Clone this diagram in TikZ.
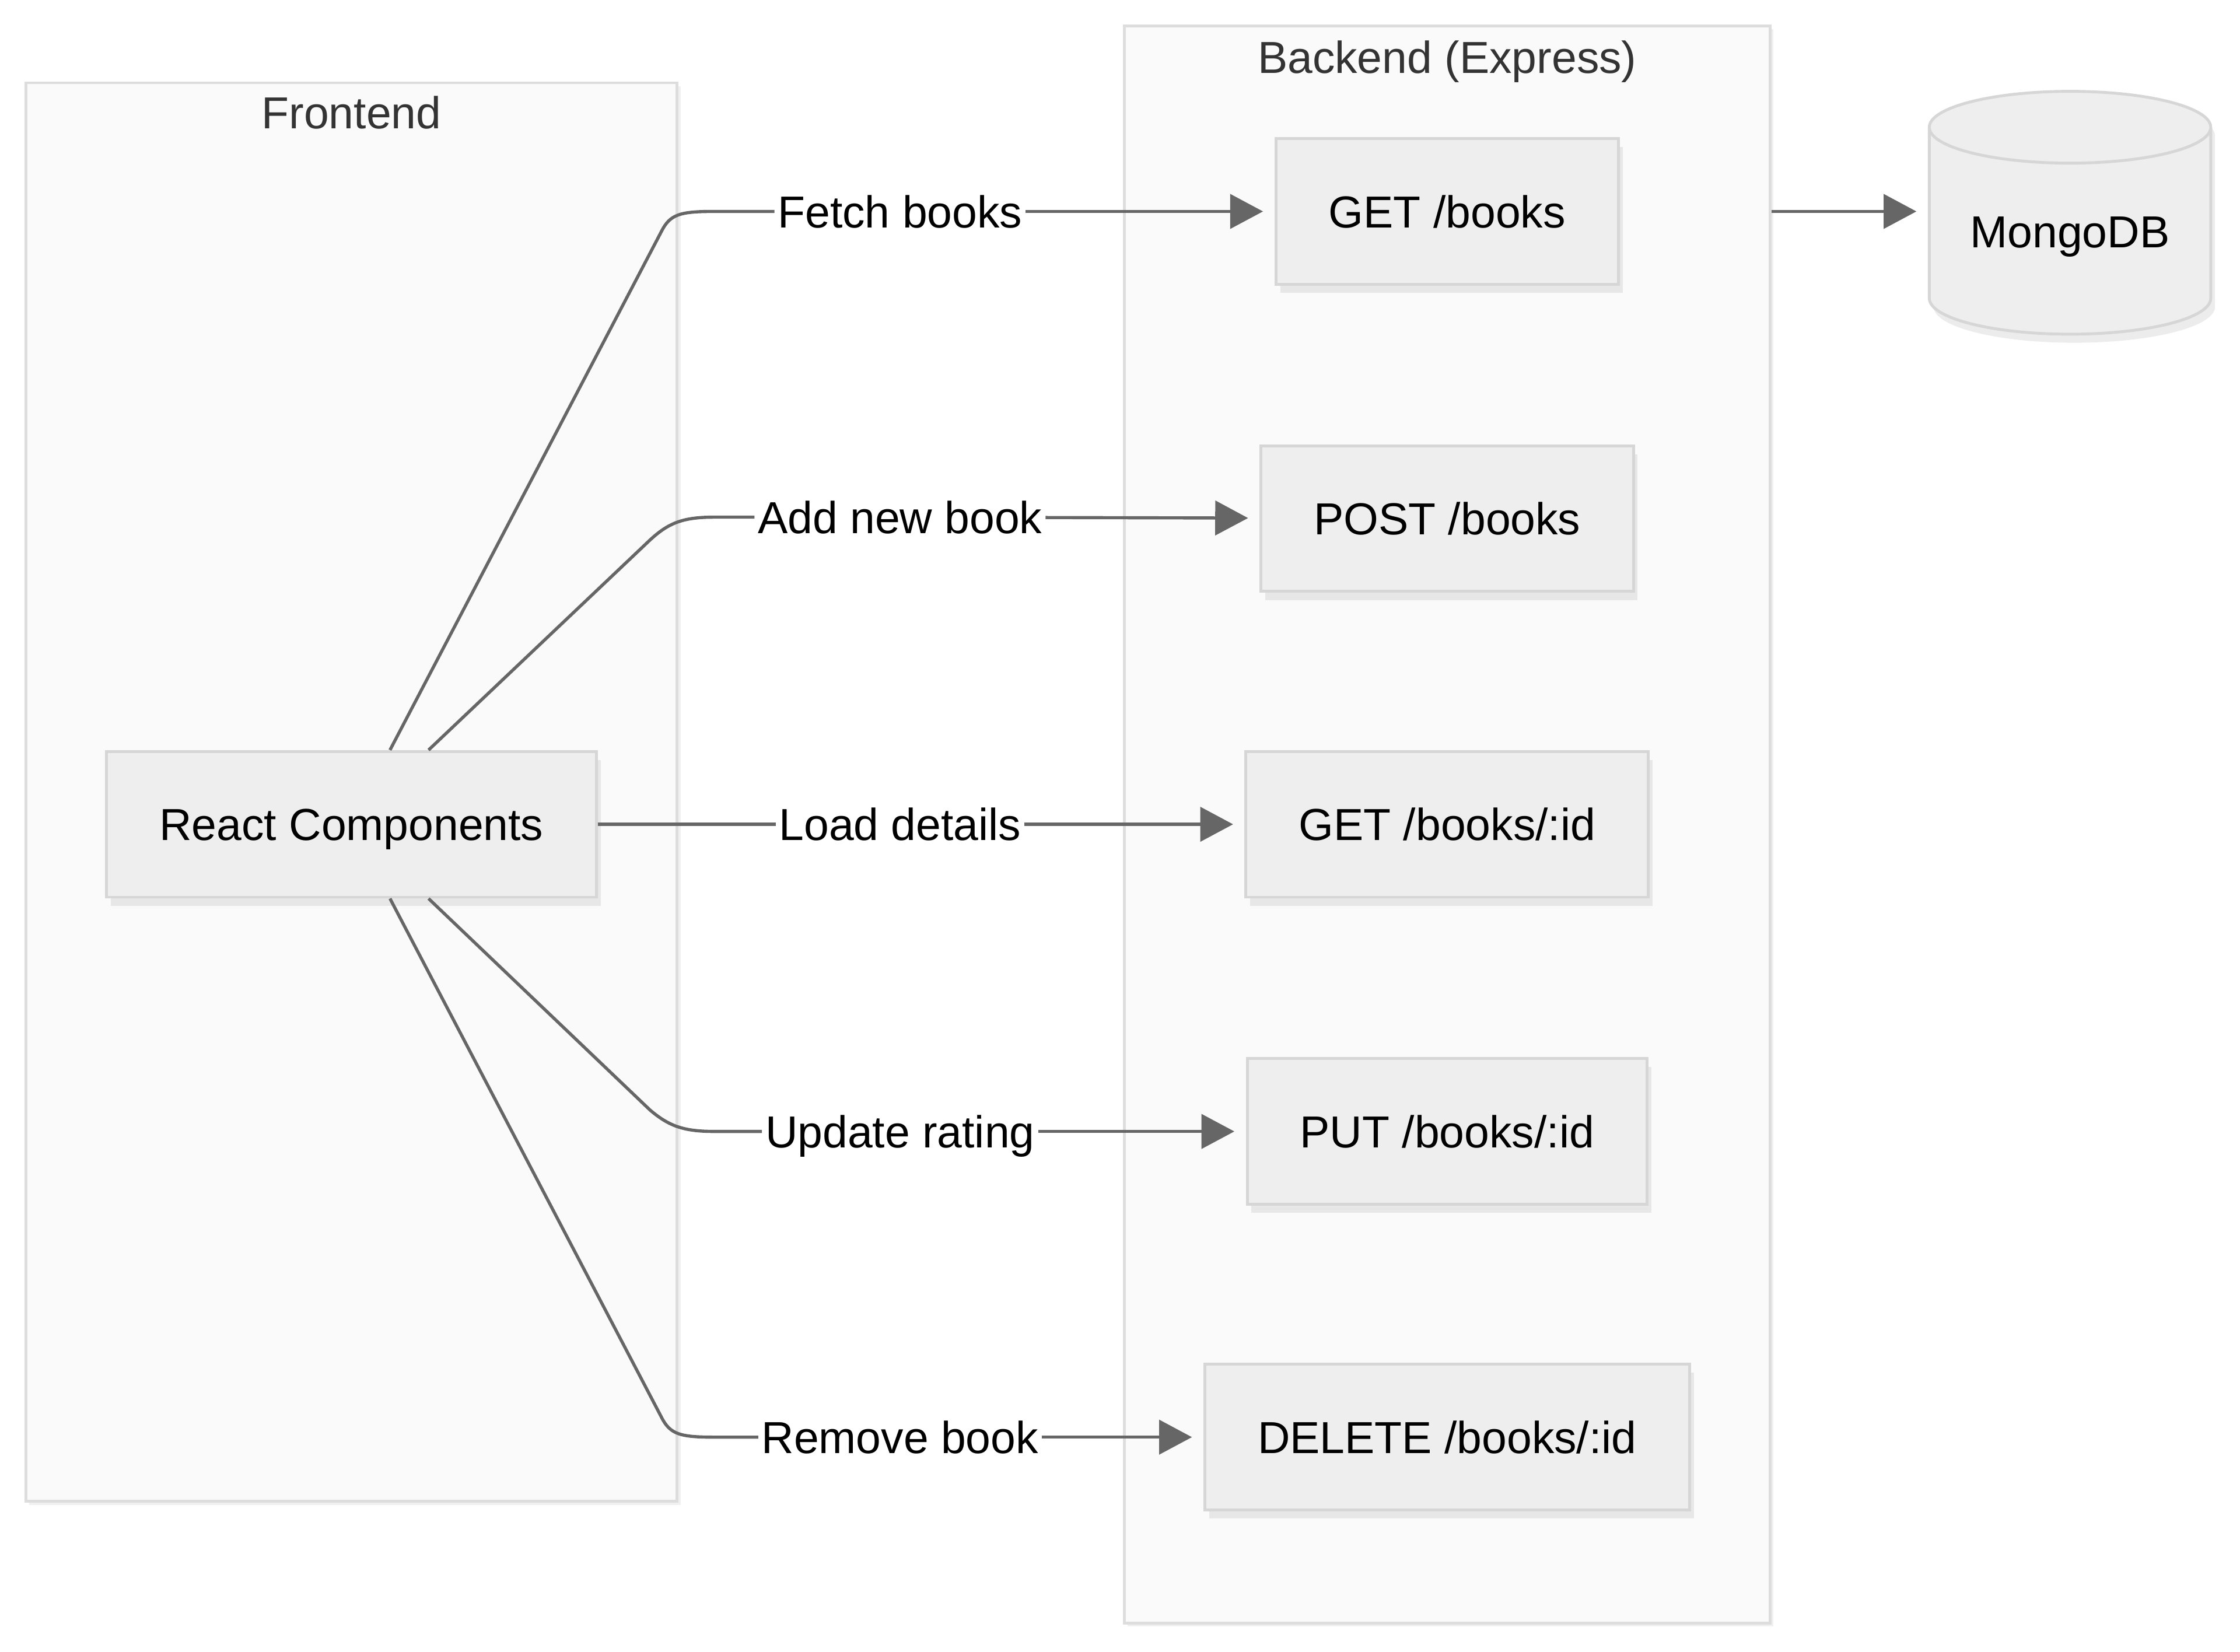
\documentclass[tikz,border=0pt]{standalone}
\usepackage{fontspec}
\setmainfont{Liberation Sans}
\usetikzlibrary{positioning,shapes.geometric,arrows.meta,shadows}
\definecolor{clfill}{HTML}{FAFAFA}
\definecolor{cldraw}{HTML}{DDDDDD}
\definecolor{boxfill}{HTML}{EEEEEE}
\definecolor{boxdraw}{HTML}{D6D6D6}
\definecolor{edgecol}{HTML}{666666}
\definecolor{titlecol}{HTML}{333333}

\begin{document}
\begin{tikzpicture}[x=0.5pt,y=0.5pt,yscale=-1,
        font=\fontsize{15.7}{18}\selectfont,
        cluster/.style={draw=cldraw,fill=clfill,line width=1pt,inner sep=0pt,drop shadow={opacity=0.12,shadow xshift=1.2pt,shadow yshift=-1.2pt}},
        ttl/.style={text=titlecol,inner sep=0pt},
        box/.style={draw=boxdraw,fill=boxfill,line width=1pt,minimum height=51pt,inner xsep=18.5pt,text height=11.4pt,text depth=0pt,drop shadow={opacity=0.15,shadow xshift=1.5pt,shadow yshift=-3pt}},
        dbcyl/.style={cylinder,shape border rotate=90,aspect=0.36,draw=boxdraw,fill=boxfill,line width=1pt,minimum width=98.5pt,minimum height=85pt,inner sep=0pt,text height=11.4pt,text depth=0pt,drop shadow={opacity=0.15,shadow xshift=1.5pt,shadow yshift=-3pt}},
        lbl/.style={fill=white,inner sep=1pt,text height=11.4pt,text depth=0pt},
        conn/.style={draw=edgecol,line width=1.1pt},
        arr/.style={conn,-{Triangle[length=11.5pt,width=12pt]},shorten >=4pt}]
        \useasboundingbox (0,0) rectangle (1568,1156);
        % groups
        \node[cluster,minimum width=228pt,minimum height=496.5pt] (fe) at (246,554.5) {};
        \node[cluster,minimum width=226pt,minimum height=559pt] (be) at (1013,577) {};
        \node[ttl,below=5pt of fe.north] (fetitle) {Frontend};
        \node[ttl,below=5.5pt of be.north] (betitle) {Backend (Express)};
        % nodes
        \node[box] (rc) at (246,577) {React Components};
        \node[box] (gb) at (1013,148) {GET /books};
        \node[box] (pb) at (1013,363) {POST /books};
        \node[box] (gi) at (1013,577) {GET /books/:id};
        \node[box] (pi) at (1013,792) {PUT /books/:id};
        \node[box] (di) at (1013,1006) {DELETE /books/:id};
        \node[dbcyl] (db) at (1449,162) {MongoDB};
        % edge labels
        \node[lbl] (lf) at (630,148) {Fetch books};
        \node[lbl] (la) at (630,362) {Add new book};
        \node[lbl] (ll) at (630,577) {Load details};
        \node[lbl] (lu) at (630,792) {Update rating};
        \node[lbl] (lr) at (630,1006) {Remove book};
        % edges
        \draw[conn] ([xshift=13.5pt]rc.north) -- (463,162) .. controls (469,150) and (476,148) .. (500,148) -- (lf);
        \draw[conn] ([xshift=27pt]rc.north) -- (455,378) .. controls (468,366) and (478,362) .. (500,362) -- (la);
        \draw[conn] (rc) -- (ll);
        \draw[conn] ([xshift=27pt]rc.south) -- (455,777) .. controls (468,788) and (478,792) .. (500,792) -- (lu);
        \draw[conn] ([xshift=13.5pt]rc.south) -- (463,992) .. controls (469,1004) and (476,1006) .. (500,1006) -- (lr);
        \draw[arr] (lf) -- (gb);
        \draw[arr] (la) -- (pb);
        \draw[arr] (ll) -- (gi);
        \draw[arr] (lu) -- (pi);
        \draw[arr] (lr) -- (di);
        \draw[arr] (be.east |- gb) -- (gb -| db.west);
\end{tikzpicture}
\end{document}
